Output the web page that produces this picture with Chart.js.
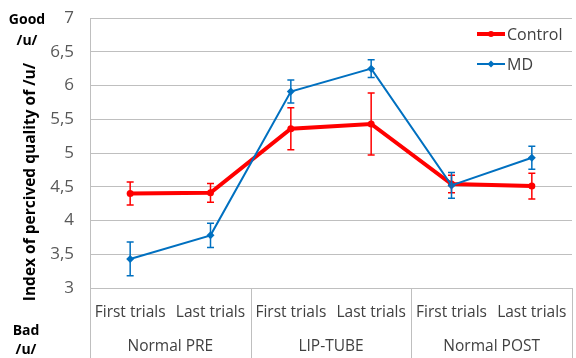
<!DOCTYPE html>
<html>
<head>
<meta charset="utf-8">
<script src="https://cdn.jsdelivr.net/npm/chart.js@4"></script>
<style>
  html, body { margin: 0; padding: 0; background: #fff; }
  #wrap { width: 576px; height: 358px; position: relative; }
</style>
</head>
<body>
<div id="wrap"><canvas id="QUALITYCHART"></canvas></div>
<script>
const trials = ['First trials', 'Last trials', 'First trials', 'Last trials', 'First trials', 'Last trials'];
const conditions = ['Normal PRE', 'LIP-TUBE', 'Normal POST'];
const control = [4.40, 4.41, 5.36, 5.43, 4.54, 4.51];
const control_err = [0.17, 0.14, 0.31, 0.46, 0.13, 0.19];
const md = [3.43, 3.78, 5.91, 6.25, 4.52, 4.93];
const md_err = [0.25, 0.18, 0.17, 0.13, 0.19, 0.17];
const y_ticks = [3, 3.5, 4, 4.5, 5, 5.5, 6, 6.5, 7];

const FONT = '"Open Sans", sans-serif';
const GRID = '#bfbfbf';

function noPad(scale) {
  scale.paddingTop = 0;
  scale.paddingBottom = 0;
  scale.paddingLeft = 0;
  scale.paddingRight = 0;
}

// error bars, group labels, legend and side texts
const extras = {
  id: 'extras',
  afterDatasetsDraw(chart) {
    const c = chart.ctx;
    const ys = chart.scales.y, xs = chart.scales.x;

    // error bars
    chart.data.datasets.forEach((ds) => {
      const errs = ds.errors;
      c.save();
      c.strokeStyle = ds.borderColor;
      c.lineWidth = 1.5;
      ds.data.forEach((v, i) => {
        const x = xs.getPixelForValue(i);
        const top = ys.getPixelForValue(v + errs[i]);
        const bot = ys.getPixelForValue(v - errs[i]);
        c.beginPath();
        c.moveTo(x, top); c.lineTo(x, bot);
        c.moveTo(x - 3.5, top); c.lineTo(x + 3.5, top);
        c.moveTo(x - 3.5, bot); c.lineTo(x + 3.5, bot);
        c.stroke();
      });
      c.restore();
    });
  },
  afterDraw(chart) {
    const c = chart.ctx;
    const xs = chart.scales.x;
    const area = chart.chartArea;
    const H = chart.height;
    const step = (area.right - area.left) / trials.length;

    c.save();
    // separators below the plot
    c.strokeStyle = GRID;
    c.lineWidth = 1;
    for (let g = 0; g <= conditions.length; g++) {
      const x = Math.min(Math.round(area.left + g * 2 * step), chart.width - 1) + 0.5;
      c.beginPath();
      c.moveTo(x, area.bottom);
      c.lineTo(x, H);
      c.stroke();
    }
    // group labels
    c.fillStyle = '#404040';
    c.font = '15.5px ' + FONT;
    c.textAlign = 'center';
    c.textBaseline = 'middle';
    conditions.forEach((name, g) => {
      const x = (xs.getPixelForValue(2 * g) + xs.getPixelForValue(2 * g + 1)) / 2;
      c.fillText(name, x, 347);
    });

    // legend
    c.font = '16px ' + FONT;
    c.textAlign = 'left';
    chart.data.datasets.forEach((ds, i) => {
      const y = 34 + i * 30;
      c.strokeStyle = ds.borderColor;
      c.lineWidth = ds.borderWidth;
      c.beginPath();
      c.moveTo(477, y); c.lineTo(505, y);
      c.stroke();
      c.fillStyle = ds.borderColor;
      c.beginPath();
      if (ds.pointStyle === 'rectRot') {
        c.moveTo(491, y - 3.5); c.lineTo(494.5, y); c.lineTo(491, y + 3.5); c.lineTo(487.5, y);
      } else {
        c.arc(491, y, 3, 0, Math.PI * 2);
      }
      c.fill();
      c.fillStyle = '#404040';
      c.fillText(ds.label, 507, y + 1);
    });

    // axis title and Good / Bad
    c.fillStyle = '#000';
    c.font = 'bold 14px ' + FONT;
    c.textAlign = 'center';
    c.fillText('Good', 27, 20);
    c.fillText('/u/', 27, 41);
    c.fillText('Bad', 26, 331);
    c.fillText('/u/', 26, 350);
    c.translate(31, 182);
    c.rotate(-Math.PI / 2);
    c.font = 'bold 15.5px ' + FONT;
    c.fillText('Index of percived quality of /u/', 0, 0);
    c.restore();
  }
};

const ctx = document.getElementById('QUALITYCHART');

const quality_chart = new Chart(ctx, {
  type: 'line',
  data: {
    labels: trials,
    datasets: [{
      label: 'Control',
      data: control,
      errors: control_err,
      borderColor: '#ff0000',
      backgroundColor: '#ff0000',
      borderWidth: 4,
      pointStyle: 'circle',
      pointRadius: 3.5,
      pointBorderWidth: 0,
      order: 2
    }, {
      label: 'MD',
      data: md,
      errors: md_err,
      borderColor: '#0070c0',
      backgroundColor: '#0070c0',
      borderWidth: 2,
      pointStyle: 'rectRot',
      pointRadius: 4,
      pointBorderWidth: 0,
      order: 1
    }]
  },
  options: {
    responsive: true,
    maintainAspectRatio: false,
    animation: false,
    layout: { padding: { top: 18, right: 1, left: 0, bottom: 0 } },
    plugins: {
      legend: { display: false },
      tooltip: { enabled: false }
    },
    scales: {
      x: {
        offset: true,
        grid: { display: false, drawTicks: false },
        border: { color: GRID },
        ticks: {
          color: '#404040',
          font: { family: FONT, size: 15.5 },
          padding: 15,
          maxRotation: 0,
          autoSkip: false
        },
        afterFit(scale) { scale.height = 70; noPad(scale); }
      },
      y: {
        min: 3,
        max: 7,
        afterBuildTicks(scale) { scale.ticks = y_ticks.map(v => ({ value: v })); },
        grid: { color: GRID, drawTicks: false },
        border: { color: GRID },
        ticks: {
          color: '#595959',
          font: { family: FONT, size: 17 },
          padding: 16,
          callback: v => String(v).replace('.', ',')
        },
        afterFit(scale) { scale.width = 90; noPad(scale); }
      }
    }
  },
  plugins: [extras]
});
</script>
</body>
</html>
